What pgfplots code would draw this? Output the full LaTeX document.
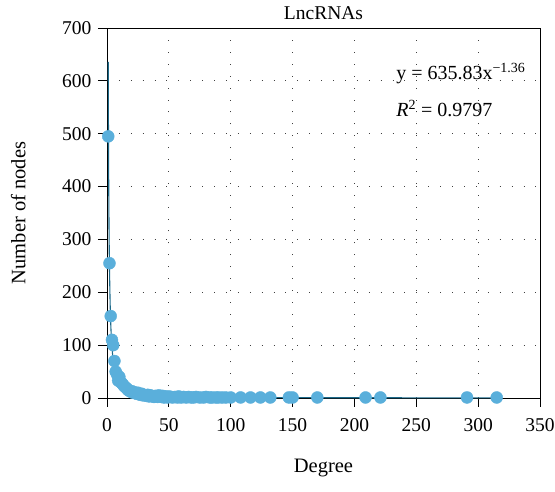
\documentclass[border=0pt]{standalone}
\usepackage{pgfplots}
\pgfplotsset{compat=1.18}
\usepackage{fontspec}
\setmainfont{Liberation Serif}
\definecolor{ptblue}{HTML}{5AAFDB}
\definecolor{fitblue}{HTML}{1D6A8A}
\begin{document}
\begin{tikzpicture}
\path[use as bounding box] (-107pt,-94pt) rectangle (448pt,398pt);
\begin{axis}[
  scale only axis,
  width=433pt, height=370pt,
  xmin=0, xmax=350, ymin=0, ymax=700,
  xtick={0,50,...,350}, ytick={0,100,...,700},
  tick align=outside, xtick pos=bottom, ytick pos=left,
  major tick length=9pt,
  tick style={black, line width=0.8pt},
  axis line style={black, line width=0.8pt},
  grid=major,
  major grid style={black!75, line width=0.9pt, dash pattern=on 0.9pt off 11pt},
  ticklabel style={font=\fontsize{19.5}{21}\selectfont},
  xticklabel style={yshift=-8pt},
  yticklabel style={xshift=-3pt},
  /pgf/number format/assume math mode=true,
  xlabel={Degree}, ylabel={Number of nodes},
  every axis x label/.style={at={(axis description cs:0.5,-0.189)}, anchor=center, font=\fontsize{20.5}{22}\selectfont},
  every axis y label/.style={at={(axis description cs:-0.205,0.5)}, rotate=90, anchor=center, font=\fontsize{20.5}{22}\selectfont},
  clip=false,
]
\addplot[only marks, mark=*, mark size=6pt, color=ptblue, mark options={draw=none, fill=ptblue}] coordinates {
(1,495)(2,255)(3,155)(4,110)(5,100)(6,70)(7,50)(8,45)(9,33)(10,40)
(11,30)(12,28)(13,25)(14,22)(15,20)(16,18)(17,15)(18,14)(19,12)(20,13)
(21,10)(22,11)(23,9)(24,8)(25,10)(26,7)(27,6)(28,8)(29,5)(30,6)
(31,5)(32,4)(33,6)(34,3)(35,5)(36,4)(37,3)(38,2)(39,4)(40,3)
(41,2)(42,5)(43,3)(44,2)(45,4)(46,1)(47,3)(48,2)(49,1)(50,3)
(52,2)(53,1)(55,2)(57,1)(58,3)(60,1)(62,2)(64,1)(66,2)(68,1)
(70,1)(72,2)(75,1)(78,1)(80,2)(83,1)(85,1)(88,1)(90,1)(93,1)
(96,1)(100,1)(108,1)(116,1)(124,1)(132,1)(147,1)(150,1)(170,1)(209,1)
(221,1)(291,1)(315,1)
};
\addplot[fitblue, line width=1.1pt, smooth] coordinates {
(1,635.8)(1.25,470.3)(1.5,366.3)(1.75,296.0)(2,247.7)(2.5,183.4)(3,142.7)(3.5,115.0)(4,96.5)(5,71.2)(6,55.6)(7,45.1)(8,37.6)(10,27.75)
(12,21.7)(15,16.0)(20,10.8)(25,7.98)(30,6.23)(40,4.21)(50,3.11)(70,1.97)
(100,1.21)(150,0.70)(200,0.47)(250,0.35)(315,0.27)
};
\node[anchor=base, font=\fontsize{19.5}{21}\selectfont] at (axis description cs:0.5,1.022) {LncRNAs};
\node[anchor=west, font=\fontsize{20}{22}\selectfont] at (axis cs:231,614) {y = 635.83x\textsuperscript{−1.36}};
\node[anchor=west, font=\fontsize{20}{22}\selectfont] at (axis cs:231,548) {\textit{R}\textsuperscript{2} = 0.9797};
\end{axis}
\end{tikzpicture}
\end{document}
